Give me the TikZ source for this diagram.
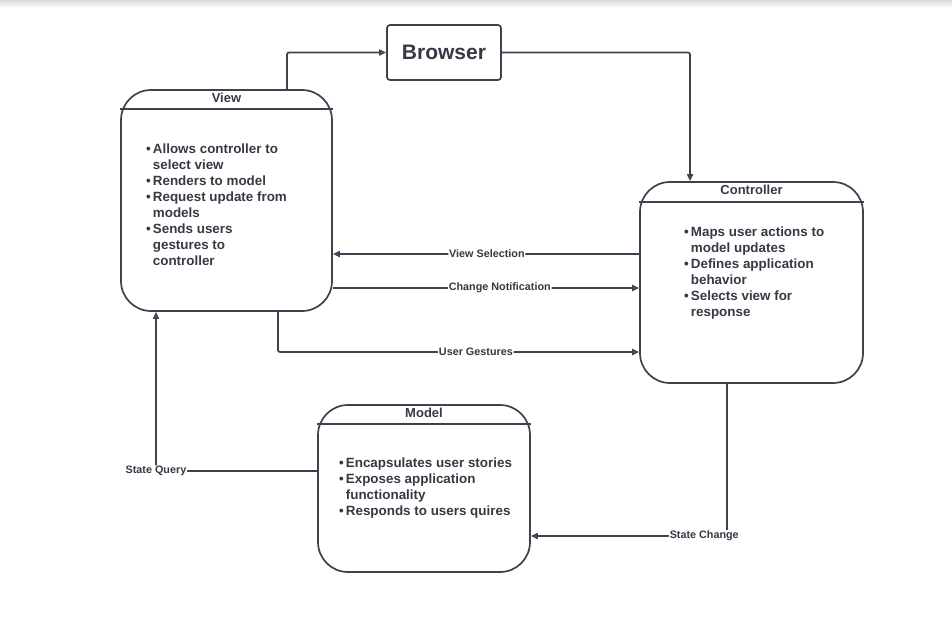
\documentclass[tikz,border=0pt]{standalone}
\usepackage{fontspec}
\setmainfont{Liberation Sans}
\usetikzlibrary{arrows.meta}
\definecolor{linec}{RGB}{60,66,78}
\definecolor{textc}{RGB}{52,57,68}
\newcommand\bl{\textbullet\hspace{0.15em}}
\newcommand\ind{\hphantom{\textbullet\hspace{0.15em}}}
\begin{document}
\begin{tikzpicture}[x=1pt,y=-1pt,
  box/.style={draw=linec,line width=1.7pt,rounded corners=30pt,inner sep=0pt},
  title/.style={text=textc,font=\bfseries\fontsize{13}{15}\selectfont,inner sep=0pt},
  body/.style={text=textc,font=\bfseries\fontsize{13.4}{16.1}\selectfont,align=left,inner sep=0pt,anchor=north west},
  hdr/.style={draw=linec,line width=1.5pt},
  arr/.style={draw=linec,line width=1.7pt,rounded corners=2pt,-{Triangle[open,length=7pt,width=6pt]}},
  lab/.style={text=textc,font=\bfseries\fontsize{10.8}{12}\selectfont,fill=white,inner sep=0.8pt}]
\useasboundingbox (0,0) rectangle (952,627);
\shade[top color=black!14,bottom color=white] (0,0) rectangle (952,8);

% boxes
\node[box,minimum width=211pt,minimum height=221pt] (view) at (226.5,200.5) {};
\node[box,minimum width=223pt,minimum height=201pt] (ctrl) at (751.5,282.5) {};
\node[box,minimum width=212pt,minimum height=167pt] (model) at (424,488.5) {};
\node[draw=linec,line width=1.7pt,rounded corners=3pt,minimum width=114pt,minimum height=55pt,inner sep=0pt,
  text=textc,font=\bfseries\fontsize{21}{24}\selectfont] (browser) at (444,52.5) {Browser};

% headers
\draw[hdr] ([yshift=-20pt]view.north west) -- ([yshift=-20pt]view.north east);
\draw[hdr] ([yshift=-21pt]ctrl.north west) -- ([yshift=-21pt]ctrl.north east);
\draw[hdr] ([yshift=-20pt]model.north west) -- ([yshift=-20pt]model.north east);
\node[title] (viewt) at ([yshift=-8.5pt]view.north) {View};
\node[title] (ctrlt) at ([yshift=-9pt]ctrl.north) {Controller};
\node[title] (modelt) at ([yshift=-9pt]model.north) {Model};

% body texts
\node[body] (viewb) at (146,143.3) {\bl Allows controller to\\\ind select view\\\bl Renders to model\\\bl Request update from\\\ind models\\\bl Sends users\\\ind gestures to\\\ind controller};
\node[body] (ctrlb) at (684,226.3) {\bl Maps user actions to\\\ind model updates\\\bl Defines application\\\ind behavior\\\bl Selects view for\\\ind response};
\node[body] (modelb) at (339,457.3) {\bl Encapsulates user stories\\\bl Exposes application\\\ind functionality\\\bl Responds to users quires};

% connectors
\draw[arr] ([xshift=60.5pt]view.north) |- (browser.west);
\draw[arr] (browser.east) -| ([xshift=-61.5pt]ctrl.north);
\draw[arr] ([yshift=28.5pt]ctrl.west) coordinate (vs) -- (vs -| view.east)
  node[lab,pos=0.497] (vsl) {View Selection};
\draw[arr] ([yshift=-87.5pt]view.east) coordinate (cn) -- (cn -| ctrl.west)
  node[lab,pos=0.545] (cnl) {Change Notification};
\draw[arr] ([xshift=51.5pt]view.south) |- ([yshift=-69.5pt]ctrl.west)
  node[lab,pos=0.774] (ugl) {User Gestures};
\draw[arr] ([yshift=17.5pt]model.west) -| ([xshift=-70.5pt]view.south)
  node[lab,pos=0.5] (sql) {State Query};
\draw[arr] ([xshift=-24.5pt]ctrl.south) |- ([yshift=-47.5pt]model.east)
  node[lab,pos=0.558] (scl) {State Change};
\end{tikzpicture}
\end{document}
